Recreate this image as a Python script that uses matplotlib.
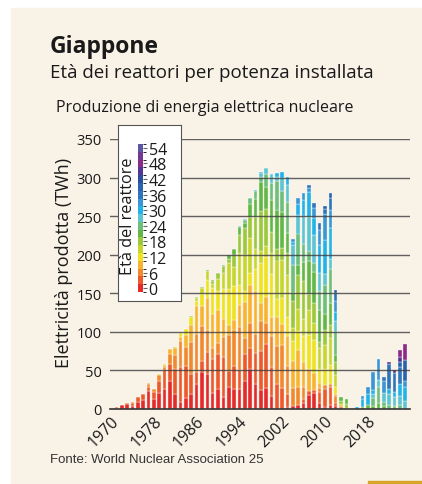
import numpy as np
import matplotlib.pyplot as plt
from matplotlib.colors import ListedColormap, BoundaryNorm
from matplotlib.cm import ScalarMappable
from matplotlib.patches import Rectangle

plt.rcParams['font.family'] = ['Open Sans', 'DejaVu Sans']

years = list(range(1970, 2025))

# reactor age classes of 3 years: 0-2, 3-5, ..., 54+
age_ticks = [0, 6, 12, 18, 24, 30, 36, 42, 48, 54]
age_colors = ['#e42b2a', '#ec5a2c', '#f18a2e', '#f8b431', '#eee31c',
              '#c6d62e', '#9bc83c', '#62b847', '#6dc07c', '#5dc4d1',
              '#22b4e9', '#3a96d4', '#2e75bc', '#2962ad', '#2a4e9c',
              '#553592', '#8d2a85', '#723791', '#5b56a3']

# TWh per year split by age class (youngest first)
twh_by_age = [
    [1.7, 0.8],                                                    # 1970
    [4.7, 0.9],
    [6.7, 0, 0.8],
    [4.5, 3.2, 0.8],
    [8.6, 6.5, 0.9],
    [11.8, 7.0, 0, 0.7],                                           # 1975
    [23.9, 5.0, 3.7, 0.9],
    [12.9, 8.7, 3.9, 0.6],
    [20.8, 15.9, 7.6, 0, 0.8],
    [25.6, 24.5, 4.2, 3.0, 0.7],
    [36.7, 21.4, 13.4, 6.0, 0.9],                                  # 1980
    [19.6, 32.9, 18.0, 8.6, 0, 0.9],
    [8.5, 45.7, 33.8, 5.7, 4.2, 1.0],
    [13.7, 42.3, 24.7, 15.5, 6.9, 1.0],
    [19.6, 26.2, 40.9, 22.5, 10.7, 0, 1.1],
    [32.7, 14.8, 49.3, 36.4, 6.2, 4.5, 1.1],                       # 1985
    [47.8, 14.5, 44.8, 26.1, 16.4, 7.3, 1.1],
    [45.4, 29.1, 27.3, 42.6, 23.4, 11.2, 0, 1.0],
    [20.8, 44.3, 13.4, 44.8, 33.1, 5.6, 4.1, 1.0],
    [25.9, 45.7, 13.9, 42.8, 25.0, 15.6, 7.0, 1.0],
    [15.8, 51.1, 25.9, 24.3, 38.0, 20.8, 9.9, 0, 1.0],             # 1990
    [28.5, 21.3, 45.5, 13.8, 46.0, 34.0, 5.8, 4.2, 1.0],
    [25.4, 30.6, 46.0, 13.9, 43.1, 25.1, 15.7, 7.1, 1.0],
    [25.8, 24.8, 55.7, 28.2, 26.5, 41.3, 22.7, 10.8, 0, 1.1],
    [36.0, 34.8, 21.8, 46.4, 14.1, 47.0, 34.7, 5.9, 4.3, 1.0],
    [51.8, 27.2, 32.7, 49.1, 14.9, 46.0, 26.8, 16.8, 7.6, 1.1],    # 1995
    [32.4, 39.6, 24.9, 55.9, 28.3, 26.6, 41.5, 22.8, 10.9, 0, 1.1],
    [24.7, 51.0, 38.3, 24.0, 51.2, 15.5, 51.7, 38.2, 6.5, 4.7, 1.1],
    [27.7, 56.0, 28.1, 33.8, 50.9, 15.4, 47.6, 27.8, 17.4, 7.8, 0.5],
    [17.5, 37.0, 39.5, 24.8, 55.7, 28.2, 26.5, 41.3, 22.7, 10.8],
    [0, 32.8, 49.5, 37.2, 23.3, 49.7, 15.1, 50.3, 37.1, 6.3, 4.6],  # 2000
    [0, 27.2, 55.5, 27.6, 33.2, 49.9, 15.1, 46.7, 27.2, 17.1, 7.7],
    [2.8, 17.2, 36.3, 38.7, 24.4, 54.6, 27.7, 26.0, 40.5, 22.3, 10.6],
    [4.1, 0, 23.2, 34.9, 26.3, 16.5, 35.1, 10.6, 35.5, 26.2, 4.5, 3.2],
    [5.0, 0, 23.7, 48.4, 24.1, 28.9, 43.5, 13.2, 40.7, 23.8, 14.9, 6.7],
    [7.5, 5.0, 15.4, 32.5, 34.7, 21.8, 49.0, 24.8, 23.3, 36.4, 20.0, 9.5],  # 2005
    [18.7, 5.0, 0, 28.7, 43.2, 32.5, 20.4, 43.4, 13.2, 43.9, 32.4, 5.5, 4.0],
    [20.3, 4.6, 0, 21.4, 43.7, 21.8, 26.1, 39.3, 11.9, 36.8, 21.5, 13.5, 6.0],
    [7.2, 14.8, 5.0, 7.0, 17.3, 27.6, 8.4, 41.6, 24.4, 22.9, 35.8, 19.6, 9.4],
    [2.8, 23.0, 5.2, 0, 21.0, 30.7, 19.7, 20.9, 37.8, 13.5, 45.1, 33.3, 5.7, 4.1],
    [5.5, 22.4, 5.0, 0, 23.6, 34.9, 17.3, 28.8, 43.4, 13.2, 40.6, 23.7, 14.8, 6.7],  # 2010
    [3.3, 4.4, 9.0, 3.0, 9.2, 15.5, 16.8, 9.1, 29.4, 14.9, 11.0, 14.7, 9.9, 4.5],
    [0, 2.5, 1.0, 0, 0, 3.0, 4.5, 5.0],
    [0, 0, 0, 0, 0, 0, 6.5, 6.5],
    [],
    [0, 0, 0, 0, 0, 0, 0, 0, 0, 0, 3.0],                           # 2015
    [0, 0, 0, 0, 0, 0, 0, 3.0, 0, 0, 10.5, 3.0],
    [0, 0, 0, 0, 0, 0, 0, 5.0, 0, 0, 15.0, 8.0],
    [0, 0, 0, 0, 0, 0, 0, 4.0, 10.0, 6.0, 4.0, 24.0],
    [0, 0, 0, 0, 0, 0, 0, 8.0, 20.0, 9.0, 0, 28.0],
    [0, 0, 0, 0, 0, 0, 0, 4.0, 5.0, 12.0, 0, 15.0, 5.5],          # 2020
    [0, 0, 0, 0, 0, 0, 0, 0, 5.0, 15.0, 6.0, 0, 32.0, 0, 0, 2.5],
    [0, 0, 0, 0, 0, 0, 0, 0, 4.0, 12.0, 6.0, 0, 25.0, 0, 0, 3.5],
    [0, 0, 0, 0, 0, 0, 0, 0, 5.0, 12.0, 15.0, 0, 22.0, 7.0, 0, 7.0, 8.5],
    [0, 0, 0, 0, 0, 0, 0, 0, 0, 10.0, 18.0, 8.0, 0, 28.0, 0, 0, 20.0],
]

x_ticks = [1970, 1978, 1986, 1994, 2002, 2010, 2018]
y_ticks = [0, 50, 100, 150, 200, 250, 300, 350]

W, H = 422, 485
fig = plt.figure(figsize=(W / 100, H / 100), dpi=100, facecolor='white')

# cream panel and gold strip
fig.patches.append(Rectangle((11 / W, 0), 1 - 11 / W, (H - 9) / H,
                             transform=fig.transFigure, color='#f8f2e7', zorder=-10))
fig.patches.append(Rectangle((368 / W, 0), 1 - 368 / W, 3 / H,
                             transform=fig.transFigure, color='#d8a526', zorder=-9))

ax = fig.add_axes([110 / W, 75 / H, 300 / W, 270 / H])
ax.patch.set_visible(False)

n_cls = len(age_colors)
table = np.zeros((len(years), n_cls))
for i, row in enumerate(twh_by_age):
    table[i, :len(row)] = row

yr = np.array(years)
bottom = np.zeros(len(years))
for k in range(n_cls):
    v = table[:, k]
    m = v > 0
    ax.bar(yr[m], v[m], bottom=bottom[m], width=0.68, color=age_colors[k],
           edgecolor='white', linewidth=0.25, zorder=2)
    bottom += v

for v in y_ticks[1:]:
    ax.axhline(v, color='#3c3c3c', lw=1.0, alpha=0.8, zorder=3)

ax.set_xlim(1968.8, 2024.9)
ax.set_ylim(0, 350)
ax.set_yticks(y_ticks)
ax.set_xticks(x_ticks)
ax.set_xticklabels([str(t) for t in x_ticks], rotation=45, ha='right',
                   va='center', rotation_mode='anchor')
ax.tick_params(axis='both', length=0, labelsize=10.5, colors='#1a1a1a')
ax.tick_params(axis='x', labelsize=11.5, pad=7)
ax.tick_params(axis='y', pad=6)
for s in ['top', 'right', 'left']:
    ax.spines[s].set_visible(False)
ax.spines['bottom'].set_color('#333333')
ax.spines['bottom'].set_linewidth(1.2)
ax.spines['bottom'].set_zorder(4)

fig.text(64 / W, (H - 263) / H, 'Elettricità prodotta (TWh)', rotation=90,
         ha='center', va='center', fontsize=13, color='#1a1a1a')

# legend box with age colour scale
box = fig.add_axes([118 / W, (H - 302) / H, 63 / W, 176 / H])
box.set_xticks([])
box.set_yticks([])
box.set_facecolor('white')
for s in box.spines.values():
    s.set_color('#555555')
    s.set_linewidth(0.8)

cax = fig.add_axes([138 / W, (H - 293) / H, 5 / W, 148 / H])
bounds = np.arange(-1.5, 57, 3)
sm = ScalarMappable(norm=BoundaryNorm(bounds, n_cls), cmap=ListedColormap(age_colors))
cb = fig.colorbar(sm, cax=cax, ticks=age_ticks)
cb.outline.set_visible(False)
cax.tick_params(length=3, width=0.8, color='#666666', labelsize=11.5,
                labelcolor='#1a1a1a', pad=1)
fig.text(128 / W, (H - 216) / H, 'Età del reattore', rotation=90,
         ha='center', va='center', fontsize=11.7, color='#1a1a1a')

fig.text(50 / W, (H - 53) / H, 'Giappone', fontsize=16.5, fontweight='bold',
         color='#1a1a1a', va='baseline')
fig.text(50 / W, (H - 78) / H, 'Età dei reattori per potenza installata',
         fontsize=13.5, color='#1a1a1a', va='baseline')
fig.text(56 / W, (H - 112) / H, 'Produzione di energia elettrica nucleare',
         fontsize=11.5, color='#1a1a1a', va='baseline')
fig.text(50 / W, (H - 463) / H, 'Fonte: World Nuclear Association 25',
         fontsize=9.5, color='#333333', va='baseline', family='Liberation Sans')

fig.savefig('out.png', dpi=100, facecolor='white')
